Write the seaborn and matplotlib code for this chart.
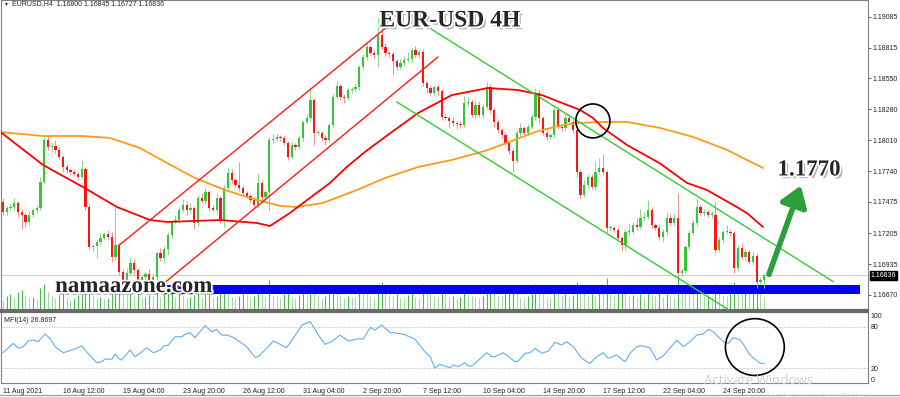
import matplotlib
matplotlib.use("Agg")
import matplotlib.pyplot as plt
import matplotlib.patheffects as pe
from matplotlib.patches import Ellipse, Rectangle
import seaborn as sns

# ---- candles (EURUSD H4) ----
first_open = 1.17475
closes = [
    1.17388, 1.17422, 1.17431, 1.17466, 1.17388, 1.17362, 1.17301, 1.17362, 1.17405, 1.17422, 1.17648,
    1.18013, 1.17953, 1.17961, 1.17927, 1.17866, 1.17779, 1.17753, 1.17735, 1.17718, 1.17692, 1.17761,
    1.17431, 1.17084, 1.17092, 1.17127, 1.17162, 1.17197, 1.17171, 1.16997, 1.17101, 1.16866, 1.16797,
    1.16858, 1.16945, 1.16884, 1.16797, 1.16823, 1.16849, 1.16797, 1.16823, 1.17031, 1.16988, 1.17066,
    1.17188, 1.17301, 1.17318, 1.17405, 1.17449, 1.17405, 1.17422, 1.17292, 1.17509, 1.17483, 1.17562,
    1.17422, 1.17405, 1.17509, 1.17318, 1.17596, 1.17727, 1.17666, 1.17622, 1.17596, 1.17553, 1.17527,
    1.17492, 1.17449, 1.17640, 1.17518, 1.17562, 1.18013, 1.18022, 1.18040, 1.18031, 1.17987, 1.17866,
    1.17970, 1.17953, 1.18031, 1.18170, 1.18205, 1.18361, 1.18074, 1.18074, 1.18031, 1.18013, 1.18144,
    1.18387, 1.18483, 1.18387, 1.18378, 1.18448, 1.18457, 1.18474, 1.18648, 1.18735, 1.18822, 1.18769,
    1.18752, 1.18926, 1.18822, 1.18769, 1.18761, 1.18700, 1.18648, 1.18683, 1.18709, 1.18717, 1.18796,
    1.18752, 1.18778, 1.18509, 1.18465, 1.18422, 1.18474, 1.18439, 1.18213, 1.18205, 1.18179, 1.18161,
    1.18152, 1.18144, 1.18335, 1.18344, 1.18231, 1.18318, 1.18231, 1.18300, 1.18474, 1.18274, 1.18170,
    1.18100, 1.18057, 1.17987, 1.17918, 1.17831, 1.18074, 1.18118, 1.18074, 1.18126, 1.18213, 1.18422,
    1.18205, 1.18074, 1.18040, 1.18057, 1.18274, 1.18126, 1.18118, 1.18205, 1.18170, 1.18100, 1.17735,
    1.17535, 1.17622, 1.17692, 1.17605, 1.17735, 1.17770, 1.17735, 1.17249, 1.17249, 1.17231, 1.17162,
    1.17101, 1.17214, 1.17214, 1.17275, 1.17257, 1.17336, 1.17344, 1.17405, 1.17275, 1.17249, 1.17171,
    1.17214, 1.17336, 1.17292, 1.17336, 1.16858, 1.16875, 1.17084, 1.17205, 1.17292, 1.17431, 1.17379,
    1.17388, 1.17362, 1.17362, 1.17058, 1.17144, 1.17214, 1.17214, 1.17205, 1.16901, 1.17075, 1.16997,
    1.17040, 1.16953, 1.17005, 1.16779, 1.16800, 1.16836,
]
upper_wick = [
    3, 2, 3, 4, 2, 3, 2, 3, 2, 3, 4,
    3, 4, 3, 5, 3, 2, 3, 2, 3, 2, 8,
    2, 3, 2, 3, 4, 2, 3, 4, 33, 2, 3,
    4, 5, 3, 2, 3, 2, 4, 3, 2, 4, 3,
    3, 2, 4, 3, 5, 3, 4, 2, 3, 4, 3,
    2, 3, 4, 2, 3, 4, 3, 2, 20, 3, 2,
    2, 3, 9, 3, 2, 3, 4, 3, 2, 3, 2,
    3, 2, 3, 2, 3, 10, 2, 3, 2, 3, 2,
    3, 4, 2, 3, 3, 2, 3, 2, 3, 3, 2,
    3, 15, 6, 3, 2, 3, 2, 3, 3, 6, 2,
    3, 2, 3, 2, 3, 2, 3, 2, 3, 2, 3,
    2, 3, 6, 4, 3, 4, 3, 3, 4, 3, 2,
    3, 2, 3, 2, 3, 3, 4, 2, 3, 3, 4,
    3, 2, 3, 2, 4, 3, 2, 4, 3, 3, 2,
    3, 4, 3, 3, 10, 9, 12, 2, 3, 2, 3,
    2, 3, 8, 3, 6, 8, 4, 9, 3, 2, 3,
    3, 5, 3, 4, 22, 3, 2, 3, 3, 8, 3,
    3, 2, 3, 11, 3, 2, 6, 3, 2, 3, 4,
    3, 2, 4, 3, 2, 1,
]
lower_wick = [
    3, 3, 2, 3, 4, 12, 4, 3, 2, 3, 2,
    2, 3, 4, 3, 2, 4, 3, 3, 2, 3, 2,
    3, 2, 4, 10, 3, 2, 3, 4, 3, 3, 6,
    3, 2, 4, 3, 2, 3, 4, 3, 5, 3, 4,
    5, 3, 2, 3, 2, 4, 3, 5, 3, 2, 3,
    3, 2, 3, 3, 6, 2, 3, 2, 3, 3, 2,
    3, 2, 3, 4, 2, 17, 3, 2, 3, 2, 3,
    2, 3, 2, 3, 2, 3, 10, 2, 3, 4, 2,
    3, 2, 3, 4, 2, 3, 2, 3, 2, 3, 2,
    3, 10, 2, 3, 3, 12, 3, 2, 3, 2, 3,
    2, 3, 3, 4, 2, 3, 4, 3, 2, 6, 3,
    4, 3, 2, 3, 2, 3, 2, 3, 2, 3, 4,
    3, 3, 2, 3, 10, 2, 3, 2, 3, 2, 3,
    4, 2, 3, 2, 3, 2, 3, 3, 2, 3, 4,
    3, 2, 3, 2, 3, 2, 3, 4, 3, 2, 3,
    4, 4, 3, 2, 3, 2, 3, 2, 3, 2, 3,
    4, 3, 2, 3, 2, 3, 2, 3, 2, 3, 2,
    3, 2, 3, 3, 2, 3, 2, 3, 4, 3, 2,
    3, 2, 3, 5, 2, 7,
]
volumes = [
    1000, 1400, 1600, 1200, 1800, 2000, 1500, 1200, 1300, 1100, 2200,
    2600, 1800, 1400, 1200, 1500, 2000, 1300, 1000, 1200, 1500, 1600,
    2400, 2800, 1400, 1200, 1300, 1100, 1200, 2200, 2400, 2600, 2000,
    1500, 1800, 1400, 2000, 1200, 1300, 1500, 1400, 2400, 1300, 1600,
    2000, 2200, 1300, 1800, 1400, 1200, 1300, 1500, 1800, 1200, 1600,
    1700, 1200, 1400, 1800, 2000, 1900, 1300, 1200, 1400, 2000, 1500,
    1200, 1400, 2000, 1600, 1300, 3000, 1500, 1400, 1200, 1600, 2000,
    1300, 1200, 1500, 1800, 1400, 2600, 2400, 1500, 1200, 1400, 1600,
    2000, 1800, 1500, 1200, 1400, 1300, 1200, 1800, 1700, 1600, 1400,
    1200, 2000, 2800, 1800, 1500, 1400, 1600, 1300, 1200, 1500, 1700,
    1300, 1200, 2600, 1800, 1600, 1400, 1300, 2400, 1600, 1300, 1400,
    1200, 1300, 1800, 1500, 1400, 1300, 1200, 1400, 2000, 2200, 1800,
    1500, 1400, 1600, 1700, 2200, 2000, 1300, 1200, 1400, 1600, 2600,
    2200, 1800, 1300, 1200, 2000, 1800, 1400, 1600, 1300, 1500, 2800,
    2600, 2000, 1500, 1600, 1400, 2200, 1800, 3200, 1600, 1400, 1800,
    2000, 1700, 1400, 1500, 1300, 1600, 1200, 1800, 1500, 1400, 1700,
    1300, 1600, 1400, 1200, 3800, 2400, 2000, 1800, 1700, 2000, 1600,
    1400, 1500, 1300, 2600, 1800, 1500, 1400, 1600, 2800, 2200, 1800,
    2400, 2000, 2200, 3000, 1800, 1200,
]

# ---- moving averages ----
red_ma_x = [-0.8, 10.7, 21.3, 30.4, 39.2, 43.7, 57.9, 67.7, 71.2, 76.5, 81.1, 87.2, 91.7, 96.5,
            101.9, 110.7, 119.7, 129.3, 137.3, 143.7, 149.1, 153.9, 157.3, 160.0, 166.4, 175.2,
            182.4, 187.7, 195.7, 198.5, 202.7]
red_ma_y = [1.18086, 1.17796, 1.17605, 1.17431, 1.17318, 1.17301, 1.17318, 1.17292, 1.17266,
            1.17379, 1.17492, 1.17640, 1.17780, 1.17909, 1.18040, 1.18248, 1.18404, 1.18465,
            1.18448, 1.18404, 1.18335, 1.18274, 1.18205, 1.18118, 1.17970, 1.17810, 1.17640,
            1.17579, 1.17431, 1.17375, 1.17257]
orange_ma_x = [-0.8, 10.7, 21.3, 28.5, 36.5, 43.7, 51.2, 59.2, 65.9, 73.9, 78.4, 85.3, 94.4,
               101.9, 110.7, 119.7, 128.5, 135.7, 141.9, 148.0, 153.3, 159.2, 166.4, 175.2,
               184.0, 193.1, 198.4, 202.7]
orange_ma_y = [1.18083, 1.18048, 1.18048, 1.18031, 1.17944, 1.17814, 1.17683, 1.17579, 1.17509,
               1.17440, 1.17431, 1.17466, 1.17579, 1.17683, 1.17779, 1.17840, 1.17918, 1.18005,
               1.18083, 1.18135, 1.18161, 1.18170, 1.18170, 1.18118, 1.18040, 1.17927, 1.17840,
               1.17770]

# ---- drawn channels (bar, price end points) ----
red_upper = ([30.7, 102.7], [1.17092, 1.19004])
red_lower = ([42.7, 116.0], [1.16762, 1.18735])
green_upper = ([114.3, 221.4], [1.18975, 1.16782])
green_lower = ([105.0, 193.6], [1.18344, 1.16536])

# ---- MFI(14) ----
mfi_x = [0, 2.8, 4.1, 5.4, 6.8, 8.1, 9.4, 11.2, 12.5, 13.9, 16.1, 19.6, 21, 22.3, 25, 26.3, 27.2,
         29, 29.9, 30.8, 31.6, 33.9, 35.2, 36.5, 38.3, 40.1, 41.9, 42.8, 44.1, 45.9, 47.7, 48.5,
         49.9, 51.2, 52.5, 53.9, 55.7, 57, 58.3, 59.7, 61.4, 65, 67.2, 68.1, 70.3, 72.1, 73.4,
         75.6, 77.4, 79.7, 81.9, 82.8, 84.1, 85.9, 87.6, 89.9, 92.1, 94.7, 96.1, 97.9, 99.2, 101,
         103.2, 105.4, 107.2, 109.9, 112.5, 113.9, 115.2, 116.5, 119.2, 120.1, 121.4, 123.2,
         124.1, 125, 126.3, 129, 130.3, 131.2, 133.4, 134.8, 136.5, 137.4, 139.2, 140.5, 141.9,
         143.7, 145.4, 147.2, 149, 150.3, 152.1, 154.3, 156.5, 158.3, 160.1, 161.4, 163.6, 165.9,
         167.2, 169, 170.3, 172.5, 174.3, 176.1, 179.7, 181.4, 183.2, 185, 186.7, 188.1, 189.4,
         190.7, 192.5, 193.4, 194.7, 196.4, 197.4, 199.2, 200.5, 201.9, 203]
mfi_y = [42.5, 56.0, 48.8, 51.2, 59.8, 60.8, 58.4, 69.5, 63.3, 51.2, 42.5, 48.8, 52.6, 44.0, 28.1,
         29.5, 33.4, 33.0, 40.6, 34.4, 32.0, 46.4, 36.8, 41.6, 49.7, 42.5, 46.4, 52.2, 53.6, 65.6,
         65.6, 69.0, 71.4, 64.2, 72.8, 81.5, 72.8, 76.2, 68.0, 68.0, 64.7, 51.2, 35.8, 36.8, 48.8,
         59.4, 56.0, 49.7, 63.3, 82.5, 87.2, 80.0, 68.0, 54.6, 58.4, 68.0, 59.4, 62.7, 62.3, 79.1,
         75.3, 82.5, 71.9, 70.5, 68.5, 61.8, 44.0, 36.8, 20.0, 25.8, 20.9, 24.8, 22.3, 28.1, 23.3,
         23.3, 29.5, 42.5, 36.8, 36.8, 42.5, 36.8, 29.5, 30.5, 41.6, 42.5, 48.8, 41.6, 45.0, 57.5,
         53.6, 58.4, 51.2, 34.4, 27.2, 36.8, 42.5, 34.4, 39.2, 29.5, 41.6, 51.2, 52.6, 49.7, 32.0,
         38.2, 60.8, 51.2, 58.4, 68.0, 69.5, 76.2, 72.8, 65.6, 57.0, 56.0, 64.2, 61.8, 55.1, 39.2,
         33.4, 27.2, 26.87]

price_ticks = [1.19085, 1.18815, 1.18550, 1.18280, 1.18010, 1.17740, 1.17475, 1.17205, 1.16935, 1.16670]
date_ticks = list(range(0, 193, 16))
date_labels = ["11 Aug 2021", "16 Aug 12:00", "19 Aug 04:00", "23 Aug 20:00", "26 Aug 12:00",
               "31 Aug 04:00", "2 Sep 20:00", "7 Sep 12:00", "10 Sep 04:00", "14 Sep 20:00",
               "17 Sep 12:00", "22 Sep 04:00", "24 Sep 20:00"]
last_price = 1.16836

sns.set_style("white")
plt.rcParams['font.family'] = ['Liberation Sans', 'DejaVu Sans']

n = min(len(closes), len(upper_wick), len(lower_wick), len(volumes))
closes = closes[:n]
opens = [first_open] + closes[:-1]
xs = list(range(n))
highs = [max(o, c) + u * 0.0001 for o, c, u in zip(opens, closes, upper_wick)]
lows = [min(o, c) - d * 0.0001 for o, c, d in zip(opens, closes, lower_wick)]
bull = [c >= o for o, c in zip(opens, closes)]

fig = plt.figure(figsize=(9, 3.97), dpi=100)
rect_main = [1 / 900, 1 - 310 / 397, 867 / 900, 310 / 397]
axv = fig.add_axes(rect_main)
ax = fig.add_axes(rect_main)
ax.patch.set_visible(False)
axm = fig.add_axes([1 / 900, 1 - 383 / 397, 867 / 900, 71 / 397])

xmin, xmax = -0.53, 230.67

# volume
vcol = ['#4db84d' if i > 0 and volumes[i] > volumes[i - 1] else '#a6dba6' for i in range(n)]
axv.vlines(xs, 0, volumes[:n], colors=vcol, lw=0.8)
axv.set_ylim(0, 31000)
axv.set_xlim(xmin, xmax)
axv.axis('off')

# candles
wick_col = ['#8ad88a' if b else '#f29090' for b in bull]
body_col = ['#34c934' if b else '#ff1414' for b in bull]
ax.vlines(xs, lows, highs, colors=wick_col, lw=0.7, zorder=3)
ax.bar(xs, [max(abs(c - o), 0.00008) for o, c in zip(opens, closes)],
       bottom=[min(o, c) for o, c in zip(opens, closes)], width=0.62,
       color=body_col, linewidth=0, zorder=4)

# moving averages
sns.lineplot(x=orange_ma_x, y=orange_ma_y, ax=ax, color='#ff9a1a', linewidth=1.3, zorder=5)
sns.lineplot(x=red_ma_x, y=red_ma_y, ax=ax, color='#ff0000', linewidth=1.3, zorder=5)

# channels
for (cx, cy), col in [(red_upper, '#ff1a1a'), (red_lower, '#ff1a1a'),
                      (green_upper, '#33cc33'), (green_lower, '#33cc33')]:
    ax.plot(cx, cy, color=col, lw=1.0, zorder=5)

# current price line & blue band
ax.axhline(last_price, color='#c8c8c8', lw=0.6, zorder=1)
ax.add_patch(Rectangle((43, 1.16673), 228.5 - 43, 0.0008, color='#0000ff', lw=0, zorder=2))

# circle on the cross
ax.add_patch(Ellipse((157.3, 1.18179), 9.1, 0.00295, fill=False, ec='black', lw=1.2, zorder=6))

# arrow
ax.annotate('', xy=(213, 1.17640), xytext=(204, 1.16823),
            arrowprops=dict(arrowstyle='-|>,head_width=0.55,head_length=0.8', lw=4,
                            color='#2c9e3c', mutation_scale=15), zorder=7)

shadow = [pe.SimplePatchShadow(offset=(2, -2), shadow_rgbFace='#808080', alpha=0.6),
          pe.Stroke(linewidth=2.5, foreground='white'), pe.Normal()]
ax.text(119.2, 1.19048, "EUR-USD 4H", family='Liberation Serif', fontweight='bold',
        fontsize=17, ha='center', va='center', zorder=8, path_effects=shadow)
ax.text(13.9, 1.16740, "namaazone.com", family='Liberation Serif', fontweight='bold',
        fontsize=16.5, ha='left', va='center', zorder=8, path_effects=shadow)
ax.text(214.9, 1.17753, "1.1770", family='Liberation Serif', fontweight='bold',
        fontsize=16.5, ha='center', va='center', zorder=8, path_effects=shadow)

ax.set_xlim(xmin, xmax)
ax.set_ylim(1.16536, 1.19230)
ax.set_xlabel('')
ax.set_ylabel('')
ax.set_xticks([])
ax.yaxis.tick_right()
ax.set_yticks(price_ticks)
ax.set_yticklabels([f"{p:.5f}" for p in price_ticks])
ax.tick_params(axis='y', labelsize=5, length=2, pad=1, colors='#222222', width=0.5)
for s in ax.spines.values():
    s.set_color('#808080')
    s.set_linewidth(0.8)
ax.spines['bottom'].set_linewidth(1.6)
ax.spines['bottom'].set_color('#6a6a6a')

ax.text(1.003, last_price, f"{last_price:.5f}", transform=ax.get_yaxis_transform(),
        fontsize=5, color='white', ha='left', va='center',
        bbox=dict(boxstyle='square,pad=0.15', fc='black', ec='black'))

# MFI panel
sns.lineplot(x=mfi_x, y=mfi_y, ax=axm, color='#62aef0', linewidth=0.8)
for lvl in (80, 20):
    axm.axhline(lvl, color='#bdbdbd', lw=0.6, ls=(0, (1.5, 1.5)))
axm.add_patch(Ellipse((200.5, 50.7), 15.7, 82, fill=False, ec='black', lw=1.2, zorder=6))
axm.set_xlim(xmin, xmax)
axm.set_ylim(-1.2, 101.3)
axm.set_xlabel('')
axm.set_ylabel('')
axm.yaxis.tick_right()
axm.set_yticks([96, 80, 20, 4])
axm.set_yticklabels(['100', '80', '20', '0'])
axm.tick_params(axis='y', labelsize=5, length=0, pad=2, colors='#222222')
axm.set_xticks(date_ticks)
axm.set_xticklabels(date_labels, ha='left')
axm.tick_params(axis='x', labelsize=5, length=2, pad=1.5, colors='#222222', width=0.5)
for s in axm.spines.values():
    s.set_color('#808080')
    s.set_linewidth(0.8)
axm.spines['top'].set_linewidth(1.6)
axm.spines['top'].set_color('#6a6a6a')
axm.text(0.004, 0.93, "MFI(14) 26.8697", transform=axm.transAxes, fontsize=5,
         ha='left', va='top', color='#222222')

# header and overlays
fig.text(3 / 900, 1 - 4 / 397, "\u25bc", fontsize=3.5, ha='left', va='center', color='#222222')
fig.text(12 / 900, 1 - 4 / 397, "EURUSD,H4  1.16800 1.16845 1.16727 1.16836",
         fontsize=5, ha='left', va='center', color='#222222')
fig.text(704 / 900, 1 - 381 / 397, "Activate Windows", fontsize=9.5, color='#cfcfcf',
         family='Open Sans', ha='left', va='center')
fig.text(766 / 900, 1 - 396 / 397, "Go to Settings to activate Windows.", fontsize=4.5,
         color='#dadada', family='Open Sans', ha='left', va='center')
fig.add_artist(plt.Line2D([0, 1], [1 - 395 / 397] * 2, color='#9a9a9a', lw=0.8))

fig.savefig("out.png", dpi=100)
